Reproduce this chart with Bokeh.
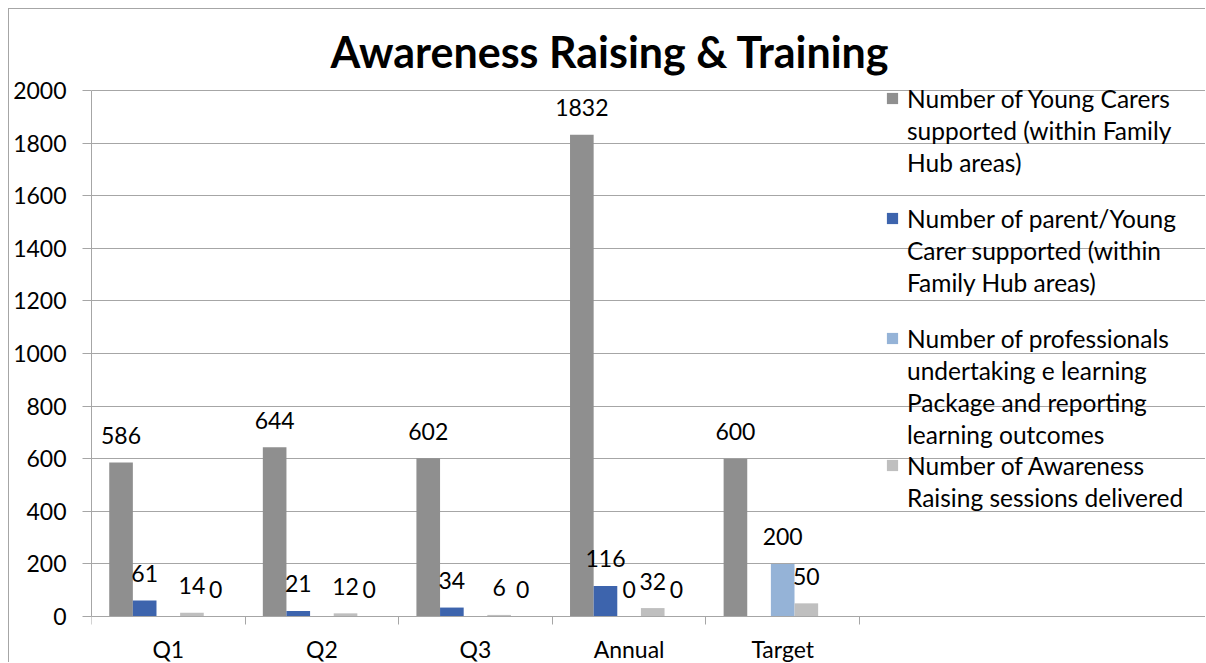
from bokeh.plotting import figure
from bokeh.models import ColumnDataSource, Range1d, FixedTicker, Legend, LegendItem
from bokeh.embed import file_html
from bokeh.resources import INLINE
from bokeh.core.properties import value

categories = ["Q1", "Q2", "Q3", "Annual", "Target"]
young_carers = [586, 644, 602, 1832, 600]
parent_carers = [61, 21, 34, 116, None]
professionals = [None, None, None, 0, 200]
awareness_sessions = [14, 12, 6, 32, 50]
unnamed_series = [0, 0, 0, 0, None]
y_ticks = [0, 200, 400, 600, 800, 1000, 1200, 1400, 1600, 1800, 2000]

series = [young_carers, parent_carers, professionals, awareness_sessions, unnamed_series]
legend_lines = [
    ["Number of Young Carers", "supported (within Family", "Hub areas)"],
    ["Number of parent/Young", "Carer supported (within", "Family Hub areas)"],
    ["Number of professionals", "undertaking e learning", "Package and reporting", "learning outcomes"],
    ["Number of Awareness", "Raising sessions delivered"],
]
colors = ["#8F8F8F", "#3D64AD", "#95B3D7", "#BFBFBF", "#FFFFFF"]

FONT = "Lato"
GRID = "#A6A6A6"
n_series = len(series)
slots = n_series + 1.5           # bar slots per category (gap = 150%)
bar_w = 1.0 / slots

# layout in page pixels: chart box starts at (8, 8) with a 1px border, canvas at (9, 9)
ORIGIN = 9
W, H = 1206 - ORIGIN, 663 - ORIGIN
AREA_L, AREA_R = 91, 859          # plot area for the categories
Y0_PX, Y2000_PX = 616, 90         # pixel rows of 0 and 2000
FRAME_T = 80
LEFT, TOP = AREA_L - ORIGIN, FRAME_T - ORIGIN
FRAME_W = W - LEFT
x_end = len(categories) * FRAME_W / (AREA_R - AREA_L)
px_per_unit = (Y0_PX - Y2000_PX) / 2000
y_start = -(663 - Y0_PX) / px_per_unit
y_end = (Y0_PX - FRAME_T) / px_per_unit

p = figure(width=W, height=H, output_backend="svg", toolbar_location=None,
           x_range=Range1d(0, x_end), y_range=Range1d(y_start, y_end),
           min_border_left=LEFT, min_border_right=0, min_border_top=TOP, min_border_bottom=0)
p.styles = {"margin-left": "8px", "margin-top": "8px",
            "border-left": "1px solid #A6A6A6", "border-top": "1px solid #A6A6A6"}
p.outline_line_color = None
p.background_fill_color = "white"

p.title.text = "Awareness Raising & Training"
p.title.text_font = FONT
p.title.text_font_style = "bold"
p.title.text_font_size = "43px"
p.title.text_color = "black"
p.title.align = "left"
p.title.offset = 239
p.title.standoff = 7

renderers = []
for k, vals in enumerate(series):
    xs = [i + (0.75 + 0.5 + k) * bar_w for i in range(len(categories))]
    tops = [float("nan") if v is None else v for v in vals]
    src = ColumnDataSource(dict(x=xs, top=tops))
    r = p.vbar(x="x", top="top", bottom=0, width=bar_w, source=src,
               fill_color=colors[k], line_color=None)
    renderers.append(r)
    lx = [x for x, v in zip(xs, vals) if v is not None]
    ly = [v for v in vals if v is not None]
    lt = [str(v) for v in vals if v is not None]
    lsrc = ColumnDataSource(dict(x=lx, y=ly, t=lt))
    p.text(x="x", y="y", text="t", source=lsrc, text_font=value(FONT),
           text_font_size="23px", text_align="center", text_baseline="middle",
           text_color="black", y_offset=-27)

blank = p.vbar(x=[], top=[], width=0.1, fill_alpha=0, line_alpha=0)

# axes
yax = p.yaxis[0]
yax.ticker = FixedTicker(ticks=y_ticks)
yax.bounds = (0, 2000)
yax.axis_line_color = GRID
yax.major_tick_line_color = GRID
yax.major_tick_out = 9
yax.major_tick_in = 0
yax.minor_tick_line_color = None
yax.major_label_standoff = 16
yax.major_label_text_font = FONT
yax.major_label_text_font_size = "23px"
yax.major_label_text_color = "black"

xax = p.xaxis[0]
xax.fixed_location = 0
xax.bounds = (0, len(categories))
xax.ticker = FixedTicker(ticks=[i + 0.5 for i in range(len(categories))],
                         minor_ticks=list(range(len(categories) + 1)))
xax.major_label_overrides = {i + 0.5: c for i, c in enumerate(categories)}
xax.axis_line_color = GRID
xax.major_tick_line_color = None
xax.major_tick_out = 8
xax.minor_tick_line_color = GRID
xax.minor_tick_out = 8
xax.minor_tick_in = 0
xax.major_label_standoff = 10
xax.major_label_text_font = FONT
xax.major_label_text_font_size = "23px"
xax.major_label_text_color = "black"

p.xgrid.visible = False
p.ygrid.ticker = FixedTicker(ticks=y_ticks)
p.ygrid.bounds = (0, len(categories))
p.ygrid.grid_line_color = GRID

# legends: one per series, one item per text line (glyph on the first line)
LINE = 32
entry_first_line_y = [100, 220, 340, 467]   # page-pixel centres of first lines
for k, lines in enumerate(legend_lines):
    items = [LegendItem(label=lines[0], renderers=[renderers[k]])]
    items += [LegendItem(label=t, renderers=[blank]) for t in lines[1:]]
    top = entry_first_line_y[k] - LINE / 2 - 2
    bottom = top + LINE * len(lines)
    lg = Legend(items=items, location=(885 - AREA_L, 663 - bottom),
                padding=0, margin=0, spacing=0,
                border_line_color=None, background_fill_alpha=0,
                glyph_width=14, glyph_height=14, label_standoff=8,
                label_height=LINE, label_text_font=FONT, label_text_font_size="24.5px",
                label_text_color="black")
    p.add_layout(lg)

open("out.html", "w").write(file_html(p, INLINE))
